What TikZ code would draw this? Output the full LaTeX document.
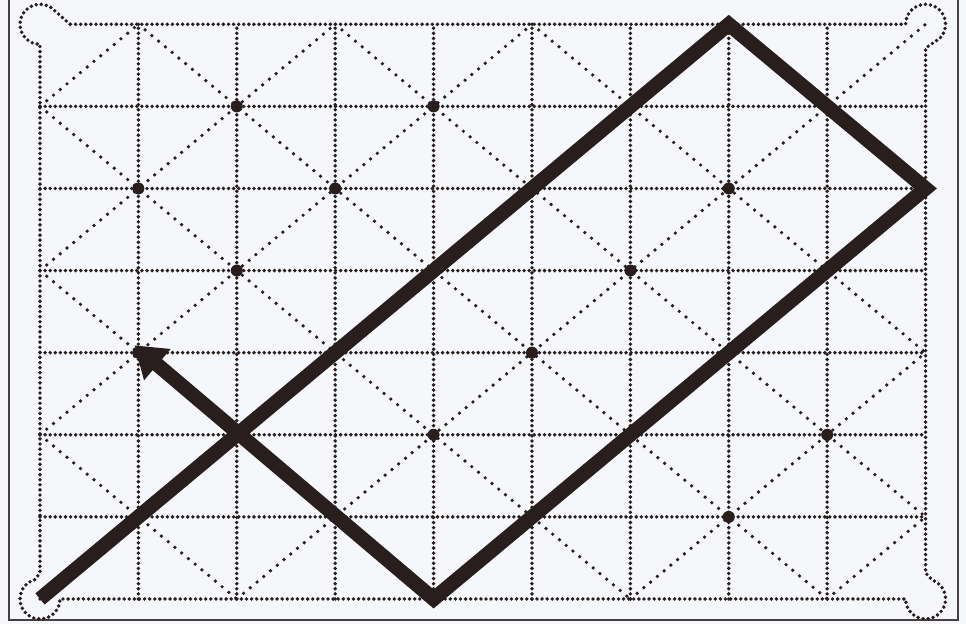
\documentclass[tikz,border=0pt]{standalone}
\usetikzlibrary{arrows.meta}
\definecolor{encre}{RGB}{40,30,30}
\definecolor{papier}{RGB}{246,247,250}
\tikzset{
  pointille/.style={encre, line width=2.2pt, line cap=round, dash pattern=on 0pt off 2.9pt},
  diagonale/.style={encre, line width=2.1pt, line cap=round, dash pattern=on 0pt off 5pt},
  trajet/.style={encre, line width=0.29cm, line join=miter},
}
\begin{document}
\begin{tikzpicture}[x=1.968cm, y=1.642cm]
  % Fond et cadre de l'image
  \fill[papier] (-0.4065,-0.3045) rectangle (9.411,7.296);
  \useasboundingbox (-0.4065,-0.3045) rectangle (9.411,7.296);
  \draw[encre!85, line width=1.3pt] (-0.315,7.4) -- (-0.315,-0.256) -- (9.329,-0.256) -- (9.329,7.4);

  % Coins de la table
  \coordinate (A) at (0,0);
  \coordinate (B) at (9,0);
  \coordinate (C) at (9,7);
  \coordinate (D) at (0,7);

  % Bord de la table avec les quatre poches
  \draw[pointille] (0.305,7) -- ([shift={(45:0.4cm)}]D) arc[start angle=45, end angle=270, radius=0.4cm]
    -- (0,6.71) -- (0,0.317) -- ([shift={(105:0.4cm)}]A) arc[start angle=105, end angle=360, radius=0.4cm]
    -- (0.285,0) -- (8.74,0) -- ([shift={(180:0.4cm)}]B) arc[start angle=180, end angle=430, radius=0.4cm]
    -- (9,0.317) -- (9,6.71) -- ([shift={(-45:0.4cm)}]C) arc[start angle=-45, end angle=180, radius=0.4cm]
    -- cycle;

  % Quadrillage
  \foreach \i in {1,...,8} \draw[pointille] (\i,0) -- (\i,7);
  \foreach \j in {1,...,6} \draw[pointille] (0,\j) -- (9,\j);

  % Diagonales
  \foreach \a/\b/\c/\d in {0/6/1/7, 0/4/3/7, 0/2/5/7, 0/0/7/7, 2/0/9/7, 4/0/9/5, 6/0/9/3, 8/0/9/1,
                           0/2/2/0, 0/4/4/0, 0/6/6/0, 1/7/8/0, 3/7/9/1, 5/7/9/3, 7/7/9/5}
    \draw[diagonale] (\a,\b) -- (\c,\d);

  % Points de croisement
  \foreach \i in {1,...,8}
    \foreach \j in {1,...,6}
      {\ifodd\numexpr\i+\j\relax\else\fill[encre] (\i,\j) circle[radius=0.12cm];\fi}

  % Trajet de la boule
  \coordinate (P1) at (7,7);
  \coordinate (P2) at (9,5);
  \coordinate (P3) at (4,0);
  \coordinate (F) at (0.96,3.09);
  \draw[trajet, -{Triangle[length=0.6cm, width=0.78cm]}] (A) -- (P1) -- (P2) -- (P3) -- (F);
\end{tikzpicture}
\end{document}
